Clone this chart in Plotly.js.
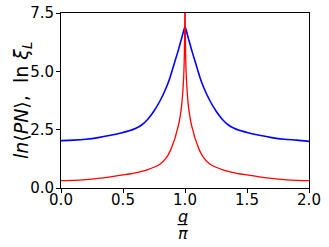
<!DOCTYPE html>
<html><head><meta charset="utf-8">
<script src="https://cdn.plot.ly/plotly-3.0.1.min.js"></script>
<style>html,body{margin:0;padding:0;background:#fff;}#chart{width:329px;height:247px;}</style>
</head><body><div id="chart"></div>
<script>
const qOverPi = [0,0.1,0.2,0.3,0.4,0.5,0.55,0.6,0.65,0.7,0.75,0.8,0.85,0.88,0.9,0.92,0.93,0.95,0.96,0.97,0.98,0.99,0.995,0.998,1.0,
                 1.002,1.005,1.01,1.02,1.03,1.04,1.05,1.07,1.08,1.1,1.12,1.15,1.2,1.25,1.3,1.35,1.4,1.45,1.5,1.6,1.7,1.8,1.9,2.0];
const lnXi = [2.03,2.05,2.09,2.16,2.26,2.38,2.45,2.55,2.7,2.95,3.3,3.75,4.32,4.75,5.1,5.45,5.62,5.98,6.17,6.36,6.56,6.76,6.84,6.88,6.91,
              6.88,6.84,6.76,6.56,6.36,6.17,5.98,5.62,5.45,5.1,4.75,4.32,3.75,3.3,2.95,2.7,2.55,2.45,2.38,2.26,2.16,2.09,2.05,2.0];
const lnPN = [0.32,0.33,0.36,0.41,0.48,0.56,0.6,0.65,0.71,0.79,0.89,1.03,1.3,1.58,1.85,2.15,2.35,2.75,3.05,3.4,3.95,4.85,5.75,7.0,9.5,
              7.0,5.75,4.85,3.95,3.4,3.05,2.75,2.35,2.15,1.85,1.58,1.3,1.03,0.89,0.79,0.71,0.65,0.6,0.56,0.48,0.41,0.36,0.33,0.32];
const xTicks = [0,0.5,1,1.5,2];
const yTicks = [0,2.5,5,7.5];

const traces = [
  {x:qOverPi, y:lnXi, mode:'lines', line:{color:'#0000ff', width:1.6, shape:'spline', smoothing:0.8}, hoverinfo:'skip'},
  {x:qOverPi, y:lnPN, mode:'lines', line:{color:'#ff0000', width:1.3, shape:'spline', smoothing:0.8}, hoverinfo:'skip'}
];
const font = {family:'DejaVu Sans', size:15, color:'#000'};
const layout = {
  width:329, height:247,
  margin:{l:61, r:20, t:13, b:59},
  paper_bgcolor:'#fff', plot_bgcolor:'#fff',
  showlegend:false,
  font:font,
  xaxis:{range:[0,2], tickvals:xTicks, tickformat:'.1f', showgrid:false, zeroline:false,
         showline:true, linecolor:'#000', linewidth:1, mirror:true,
         ticks:'outside', ticklen:4, tickcolor:'#000', tickfont:font, ticklabelstandoff:-6},
  yaxis:{range:[0,7.5], tickvals:yTicks, tickformat:'.1f', showgrid:false, zeroline:false,
         showline:true, linecolor:'#000', linewidth:1, mirror:true,
         ticks:'outside', ticklen:4, tickcolor:'#000', tickfont:font, ticklabelstandoff:-1},
  annotations:[
    {xref:'paper', yref:'paper', x:-0.155, y:0.5, text:'<i>ln</i>⟨<i>PN</i>⟩,  ln <i>ξ</i><sub><i>L</i></sub>',
     textangle:-90, showarrow:false, font:{family:'DejaVu Sans', size:19, color:'#000'}, xanchor:'center', yanchor:'middle'},
    {xref:'paper', yref:'paper', x:0.49, y:-0.16, text:'<i>q</i>', showarrow:false,
     font:{family:'DejaVu Sans', size:16, color:'#000'}, xanchor:'center', yanchor:'middle'},
    {xref:'paper', yref:'paper', x:0.49, y:-0.262, text:'<i>π</i>', showarrow:false,
     font:{family:'DejaVu Sans', size:16, color:'#000'}, xanchor:'center', yanchor:'middle'}
  ],
  shapes:[
    {type:'line', xref:'paper', yref:'paper', x0:0.47, x1:0.51, y0:-0.209, y1:-0.209, line:{color:'#000', width:1.2}}
  ]
};
Plotly.newPlot('chart', traces, layout, {staticPlot:true, displayModeBar:false});
</script></body></html>
